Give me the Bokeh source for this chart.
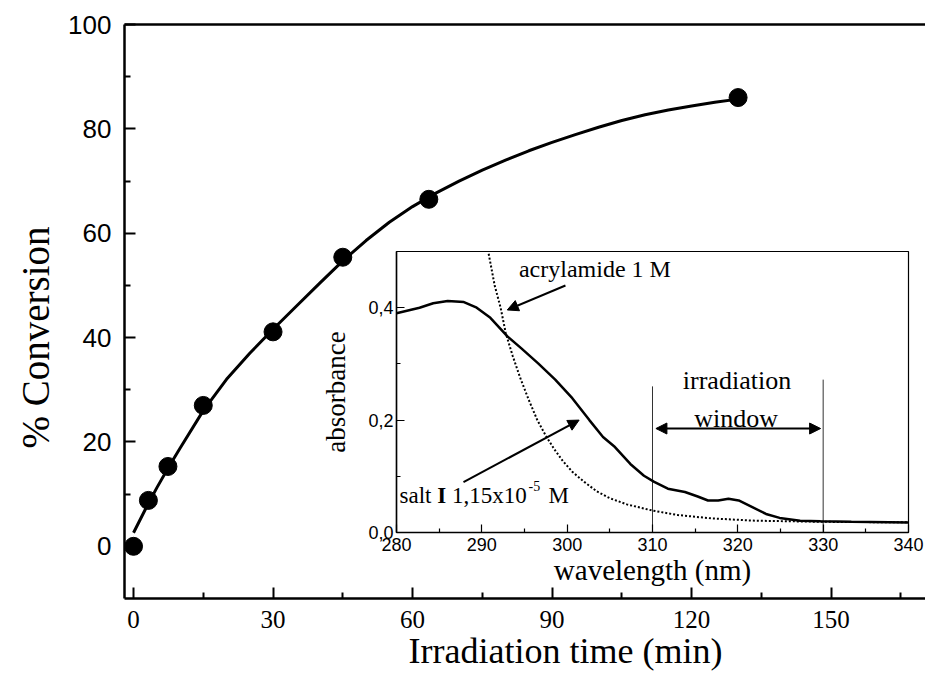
import math
from bokeh.plotting import figure
from bokeh.models import (Range1d, FixedTicker, LinearAxis, Label, Arrow,
                          NormalHead, CustomJSTickFormatter, Title)
from bokeh.embed import file_html
from bokeh.resources import INLINE

# ---------------- main chart data ----------------
time_pts = [0, 3.2, 7.4, 15, 30, 45, 63.5, 130]
conv_pts = [0, 8.8, 15.3, 27.0, 41.1, 55.4, 66.5, 86.0]
fit_time = [0, 2.5, 5, 7.5, 10, 15, 20, 25, 30, 35, 40, 45, 50, 55, 60, 65,
            70, 75, 80, 85, 90, 95, 100, 105, 110, 115, 120, 125, 130]
fit_conv = [2.6, 7.0, 11.2, 15.1, 18.8, 26.0, 32.0, 37.0, 41.6, 46.0, 50.4,
            54.7, 58.6, 62.1, 65.1, 67.7, 70.0, 72.1, 74.0, 75.8, 77.4, 78.9,
            80.3, 81.6, 82.7, 83.6, 84.4, 85.1, 85.7]
x_major = [0, 30, 60, 90, 120, 150]
x_minor = [15, 45, 75, 105, 135, 165]
y_major = [0, 20, 40, 60, 80, 100]
y_minor = [10, 30, 50, 70, 90]

# ---------------- inset data ----------------
wl_salt = [280.0, 282.7, 284.3, 286.0, 287.9, 289.4, 291.0, 293.0, 294.6,
           296.6, 298.6, 300.6, 302.6, 304.2, 305.6, 307.4, 309.0, 310.2,
           311.8, 313.8, 315.3, 316.5, 317.7, 318.9, 320.1, 321.7, 323.3,
           324.9, 327.3, 329.7, 333.3, 340.0]
abs_salt = [0.390, 0.400, 0.408, 0.412, 0.410, 0.400, 0.382, 0.349, 0.328,
            0.301, 0.272, 0.239, 0.200, 0.170, 0.152, 0.122, 0.101, 0.090,
            0.078, 0.072, 0.064, 0.057, 0.057, 0.060, 0.057, 0.045, 0.033,
            0.026, 0.021, 0.020, 0.019, 0.018]
wl_acr = [290.8, 291.5, 292.2, 292.8, 293.6, 294.5, 295.5, 296.5, 297.5,
          298.5, 299.5, 300.6, 302.0, 303.5, 305.0, 307.0, 310.0, 313.0,
          317.0, 322.0, 330.0, 340.0]
abs_acr = [0.496, 0.440, 0.400, 0.355, 0.315, 0.275, 0.236, 0.200, 0.172,
           0.148, 0.127, 0.108, 0.090, 0.073, 0.061, 0.050, 0.039, 0.031,
           0.025, 0.021, 0.019, 0.018]
inset_x_major = [280, 290, 300, 310, 320, 330, 340]
inset_x_minor = [285, 295, 305, 315, 325, 335]
inset_y_major = [0.0, 0.2, 0.4]
inset_y_minor = [0.1, 0.3]
window_lo, window_hi = 310, 330

SERIF = "Liberation Serif"
SANS = "Liberation Sans"

# ================= main figure =================
p = figure(width=925, height=677, x_range=Range1d(-1.94, 170.3),
           y_range=Range1d(-10, 100), output_backend="svg",
           toolbar_location=None, min_border_left=124, min_border_right=0,
           min_border_top=24, min_border_bottom=79)
p.outline_line_color = None
p.background_fill_color = "white"
p.border_fill_color = "white"
p.xgrid.visible = False
p.ygrid.visible = False

p.line(fit_time, fit_conv, line_color="black", line_width=3)
p.scatter(time_pts, conv_pts, size=18, marker="circle",
          fill_color="black", line_color="black")

for ax in (p.xaxis[0], p.yaxis[0]):
    ax.axis_line_width = 2.5
    ax.major_tick_in = 11
    ax.major_tick_out = 0
    ax.minor_tick_in = 6
    ax.minor_tick_out = 0
    ax.major_tick_line_width = 2
    ax.minor_tick_line_width = 2
    ax.axis_line_color = "black"
    ax.major_tick_line_color = "black"
    ax.minor_tick_line_color = "black"
    ax.major_label_text_color = "black"

p.xaxis[0].ticker = FixedTicker(ticks=x_major, minor_ticks=x_minor)
p.xaxis[0].major_label_text_font = SERIF
p.xaxis[0].major_label_text_font_size = "25px"
p.xaxis[0].major_label_standoff = 12

p.yaxis[0].ticker = FixedTicker(ticks=y_major, minor_ticks=y_minor)
p.yaxis[0].major_label_text_font = SANS
p.yaxis[0].major_label_text_font_size = "26px"
p.yaxis[0].major_label_standoff = 13

top_axis = LinearAxis(ticker=FixedTicker(ticks=[]), axis_line_width=2.5,
                      major_label_text_font_size="0px",
                      major_tick_line_color=None, minor_tick_line_color=None)
p.add_layout(top_axis, "above")

p.add_layout(Title(text="Irradiation time (min)", align="left", offset=284,
                   text_font=SERIF, text_font_size="36px",
                   text_font_style="normal", text_color="black", standoff=-4),
             "below")
p.add_layout(Title(text="% Conversion", align="left", offset=150,
                   text_font=SERIF, text_font_size="39px",
                   text_font_style="normal", text_color="black", standoff=18),
             "left")
p.styles = {"position": "absolute", "left": "0px", "top": "0px"}

# ================= inset figure =================
q = figure(width=625, height=372, x_range=Range1d(280, 340),
           y_range=Range1d(0, 0.5), output_backend="svg",
           toolbar_location=None, min_border_left=96, min_border_right=17,
           min_border_top=11, min_border_bottom=80)
q.border_fill_color = None
q.border_fill_alpha = 0
q.background_fill_color = "white"
q.outline_line_color = "black"
q.outline_line_width = 1.2
q.outline_line_alpha = 1
q.xgrid.visible = False
q.ygrid.visible = False

q.segment(x0=[window_lo, window_hi], y0=[0, 0], x1=[window_lo, window_hi],
          y1=[0.26, 0.272], line_color="#333333", line_width=1)
q.line(wl_acr, abs_acr, line_color="black", line_width=2, line_dash="2 2")
q.line(wl_salt, abs_salt, line_color="black", line_width=2.5)

for ax in (q.xaxis[0], q.yaxis[0]):
    ax.axis_line_width = 1.5
    ax.major_tick_in = 8
    ax.major_tick_out = 0
    ax.minor_tick_in = 4
    ax.minor_tick_out = 0
    ax.major_tick_line_width = 1.2
    ax.minor_tick_line_width = 1.2
    ax.major_label_text_font = SANS
    ax.major_label_text_font_size = "18px"
    ax.major_label_text_color = "black"
    ax.axis_label_text_font = SERIF
    ax.axis_label_text_font_style = "normal"
    ax.axis_label_text_color = "black"

q.xaxis[0].ticker = FixedTicker(ticks=inset_x_major, minor_ticks=inset_x_minor)
q.xaxis[0].major_label_standoff = 5
q.xaxis[0].axis_label = "wavelength (nm)"
q.xaxis[0].axis_label_text_font_size = "29px"
q.xaxis[0].axis_label_standoff = 0

q.yaxis[0].ticker = FixedTicker(ticks=inset_y_major, minor_ticks=inset_y_minor)
q.yaxis[0].formatter = CustomJSTickFormatter(
    code="return tick.toFixed(1).replace('.', ',');")
q.yaxis[0].major_label_standoff = 3
q.yaxis[0].axis_label = "absorbance"
q.yaxis[0].axis_label_text_font_size = "27px"
q.yaxis[0].axis_label_standoff = 14


def head():
    return NormalHead(size=11, fill_color="black", line_color="black")


q.add_layout(Arrow(end=head(), x_start=299.8, y_start=0.4395, x_end=292.98,
                   y_end=0.396, line_width=2))
q.add_layout(Arrow(end=head(), x_start=287.85, y_start=0.0896, x_end=301.4,
                   y_end=0.2, line_width=2))
q.add_layout(Arrow(start=head(), end=head(), x_start=310.4, y_start=0.185,
                   x_end=329.7, y_end=0.185, line_width=2))

q.add_layout(Label(x=294.35, y=0.468, text="acrylamide 1 M", text_font=SERIF,
                   text_font_size="24px", text_baseline="alphabetic",
                   text_color="black"))
q.add_layout(Label(x=319.9, y=0.270, text="irradiation", text_font=SERIF,
                   text_font_size="26px", text_align="center",
                   text_baseline="alphabetic", text_color="black"))
q.add_layout(Label(x=319.8, y=0.203, text="window", text_font=SERIF,
                   text_font_size="26px", text_align="center",
                   text_baseline="alphabetic", text_color="black"))

salt_x, salt_y = 280.35, 0.066
salt_parts = [("salt", 0, 0, "23px", "normal"),
              ("I", 37.7, 0, "23px", "bold"),
              ("1,15x10", 52.4, 0, "23px", "normal"),
              ("-5", 129, 9, "14px", "normal"),
              ("M", 149, 0, "23px", "normal")]
for txt, dx, dy, fs, st in salt_parts:
    q.add_layout(Label(x=salt_x, y=salt_y, x_offset=dx, y_offset=dy, text=txt,
                       text_font=SERIF, text_font_size=fs,
                       text_font_style=st, text_baseline="alphabetic",
                       text_color="black"))

q.styles = {"position": "absolute", "left": "300px", "top": "240px"}

open("out.html", "w").write(file_html([p, q], INLINE))
